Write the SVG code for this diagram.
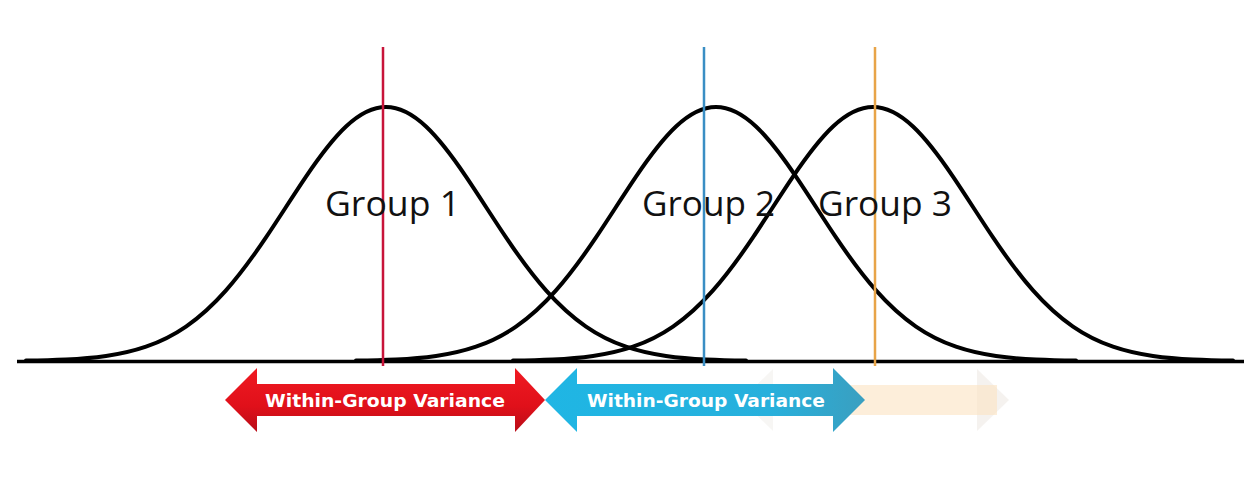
<svg xmlns="http://www.w3.org/2000/svg" xmlns:xlink="http://www.w3.org/1999/xlink" width="1244" height="480" viewBox="0 0 1244 480">
<style>
.curve{fill:none;stroke:#000;stroke-width:4;stroke-linecap:round}
.axis{stroke:#000;stroke-width:3.5}
.mean{stroke-width:2.5}
.glabel{font-family:"Open Sans","Noto Sans",sans-serif;font-size:34px;fill:#111}
.alabel{font-family:"DejaVu Sans","Liberation Sans",sans-serif;font-weight:bold;font-size:18px;fill:#fff}
</style>
<defs>
<path id="bell" d="M -360,360.6 C -346.67,360.4 -333.33,360.1 -320,359.5 C -306.67,358.9 -293.33,357.9 -280,356.0 C -266.67,354.1 -253.33,351.3 -240,346.7 C -226.67,342.1 -213.33,335.8 -200,326.6 C -186.67,317.4 -173.33,305.5 -160,290.4 C -146.67,275.3 -133.33,257.2 -120,237.4 C -106.67,217.6 -93.33,196.3 -80,176.6 C -66.67,156.9 -53.33,139.0 -40,126.5 C -26.67,114.0 -13.33,107 0,107 C 13.33,107 26.67,114.0 40,126.5 C 53.33,139.0 66.67,156.9 80,176.6 C 93.33,196.3 106.67,217.6 120,237.4 C 133.33,257.2 146.67,275.3 160,290.4 C 173.33,305.5 186.67,317.4 200,326.6 C 213.33,335.8 226.67,342.1 240,346.7 C 253.33,351.3 266.67,354.1 280,356.0 C 293.33,357.9 306.67,358.9 320,359.5 C 333.33,360.1 346.67,360.4 360,360.6"/>
<linearGradient id="gRed" x1="0" y1="0" x2="0" y2="1">
<stop offset="0" stop-color="#f01a22"/><stop offset="0.6" stop-color="#e0101a"/><stop offset="1" stop-color="#b80d18"/>
</linearGradient>
<linearGradient id="gBlue" x1="0" y1="0" x2="1" y2="0">
<stop offset="0" stop-color="#1fb6e4"/><stop offset="0.7" stop-color="#27b0dc"/><stop offset="1" stop-color="#3a9fc0"/>
</linearGradient>
</defs>

<g id="axis">
<line class="axis" x1="17" y1="361.5" x2="1244" y2="361.5"/>
</g>

<g id="curve-group1"><use xlink:href="#bell" class="curve" transform="translate(386,0)"/></g>
<g id="curve-group2"><use xlink:href="#bell" class="curve" transform="translate(716,0)"/></g>
<g id="curve-group3"><use xlink:href="#bell" class="curve" transform="translate(873,0)"/></g>

<g id="mean-lines">
<line class="mean" x1="383" y1="47" x2="383" y2="366" stroke="#c8143a"/>
<line class="mean" x1="704" y1="47" x2="704" y2="366" stroke="#3a8ec4"/>
<line class="mean" x1="875" y1="47" x2="875" y2="366" stroke="#e8a448"/>
</g>

<g id="labels">
<text class="glabel" x="325" y="216" textLength="135" lengthAdjust="spacingAndGlyphs">Group 1</text>
<text class="glabel" x="642" y="216" textLength="133" lengthAdjust="spacingAndGlyphs">Group 2</text>
<text class="glabel" x="818" y="216" textLength="134" lengthAdjust="spacingAndGlyphs">Group 3</text>
</g>

<g id="arrow-faded">
<polygon points="741,400 773,369 773,431" fill="#e8e4e0" opacity="0.35"/>
<polygon points="977,369 1009,400 977,431" fill="#ebe6e0" opacity="0.5"/>
<rect x="773" y="385" width="224" height="30" fill="#fbe3c2" opacity="0.6"/>
</g>

<g id="arrow-red">
<polygon points="225,400 257,368 257,384 515,384 515,368 545,400 515,432 515,416 257,416 257,432" fill="url(#gRed)"/>
<text class="alabel" x="265" y="407" textLength="240" lengthAdjust="spacingAndGlyphs">Within-Group Variance</text>
</g>

<g id="arrow-blue">
<polygon points="545,400 577,368 577,384 833,384 833,368 865,400 833,432 833,416 577,416 577,432" fill="url(#gBlue)"/>
<text class="alabel" x="587" y="407" textLength="238" lengthAdjust="spacingAndGlyphs">Within-Group Variance</text>
</g>
</svg>
